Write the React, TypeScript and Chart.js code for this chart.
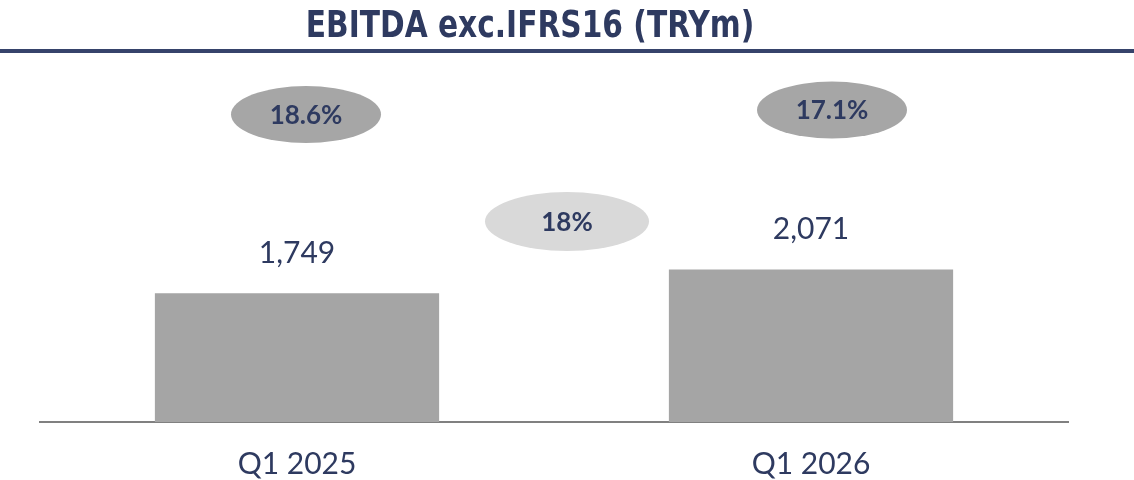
import React, { useEffect, useRef } from "react";
import { Chart, registerables } from "chart.js";

Chart.register(...registerables);

// ---- data ----
const categories = ["Q1 2025", "Q1 2026"];
const ebitda = [1749, 2071]; // TRYm
const margins = [18.6, 17.1]; // EBITDA margin, %
const growth = [18]; // YoY growth, %
const titleText = "EBITDA exc.IFRS16 (TRYm)";

// ---- styles ----
const NAVY = "#2E3A60";
const LINE_NAVY = "#36436B";
const BAR_GRAY = "#A5A5A5";
const DARK_ELLIPSE = "#A6A6A6";
const LIGHT_ELLIPSE = "#D9D9D9";
const AXIS_GRAY = "#808080";
const LABEL_FONT = "Lato";

const decorPlugin = {
  id: "decor",
  beforeDraw(chart: any) {
    const { ctx, width } = chart;
    ctx.save();
    ctx.fillStyle = "#ffffff";
    ctx.fillRect(0, 0, width, chart.height);
    // title
    ctx.save();
    ctx.translate(530, 37);
    ctx.scale(1, 1.14);
    ctx.fillStyle = NAVY;
    ctx.font = `bold 33px "DejaVu Sans Condensed", "DejaVu Sans"`;
    ctx.textAlign = "center";
    ctx.textBaseline = "alphabetic";
    ctx.fillText(titleText, 0, 0);
    ctx.restore();
    // rule under title
    ctx.fillStyle = LINE_NAVY;
    ctx.fillRect(0, 49, width, 4);
    ctx.restore();
  },
  afterDatasetsDraw(chart: any) {
    const { ctx } = chart;
    const bars = chart.getDatasetMeta(0).data;
    ctx.save();
    // value labels
    ctx.fillStyle = NAVY;
    ctx.font = `30px ${LABEL_FONT}`;
    ctx.textAlign = "center";
    ctx.textBaseline = "alphabetic";
    bars.forEach((b: any, i: number) => {
      ctx.fillText(ebitda[i].toLocaleString("en-US"), b.x, b.y - 30);
    });
    const ellipse = (cx: number, cy: number, rx: number, ry: number, color: string, text: string) => {
      ctx.beginPath();
      ctx.ellipse(cx, cy, rx, ry, 0, 0, Math.PI * 2);
      ctx.fillStyle = color;
      ctx.fill();
      ctx.fillStyle = NAVY;
      ctx.font = `bold 26px ${LABEL_FONT}`;
      ctx.textAlign = "center";
      ctx.textBaseline = "middle";
      ctx.fillText(text, cx, cy + 1);
    };
    const marginOffsets = [9, 21];
    const marginY = [114.5, 110];
    bars.forEach((b: any, i: number) => {
      ellipse(b.x + marginOffsets[i], marginY[i], 75, 28.5, DARK_ELLIPSE, margins[i].toFixed(1) + "%");
    });
    const midX = (bars[0].x + bars[1].x) / 2;
    ellipse(midX + 13, 221.5, 82, 29.5, LIGHT_ELLIPSE, growth[0] + "%");
    ctx.restore();
  },
};

export default function App() {
  const ref = useRef<HTMLCanvasElement | null>(null);
  useEffect(() => {
    if (!ref.current) return;
    const chart = new Chart(ref.current, {
      type: "bar",
      data: {
        labels: categories,
        datasets: [
          {
            data: ebitda,
            backgroundColor: BAR_GRAY,
            borderWidth: 0,
            categoryPercentage: 1,
            barPercentage: 0.553,
          },
        ],
      },
      options: {
        animation: false,
        responsive: true,
        maintainAspectRatio: false,
        layout: { padding: { top: 61, left: 40, right: 66, bottom: -26 } },
        plugins: {
          legend: { display: false },
          tooltip: { enabled: false },
          title: { display: false },
        },
        scales: {
          x: {
            grid: { display: false, drawTicks: false },
            border: { display: true, color: AXIS_GRAY, width: 2 },
            ticks: {
              color: NAVY,
              padding: 27,
              font: { family: LABEL_FONT, size: 30, lineHeight: 1 },
            },
          },
          y: {
            display: false,
            min: 0,
            max: 4900,
          },
        },
      },
      plugins: [decorPlugin],
    });
    return () => chart.destroy();
  }, []);
  return (
    <div style={{ position: "absolute", left: 0, top: 0, width: 1134, height: 480 }}>
      <canvas ref={ref} />
    </div>
  );
}
